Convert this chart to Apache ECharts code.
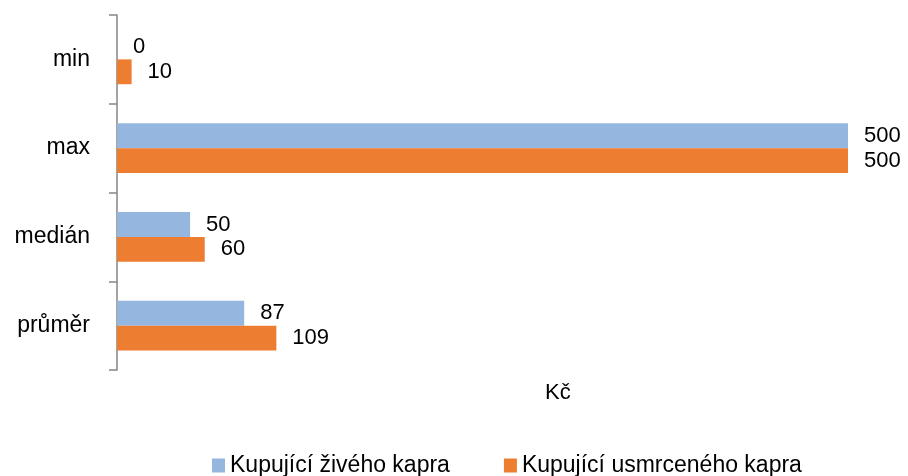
<!DOCTYPE html>
<html>
<head>
<meta charset="utf-8">
<script src="https://cdn.jsdelivr.net/npm/echarts@6/dist/echarts.min.js"></script>
<style>
  html, body { margin: 0; padding: 0; background: #fff; }
  #chart { width: 908px; height: 476px; }
</style>
</head>
<body>
<div id="chart"></div>
<script>
var categories = ['min', 'max', 'medián', 'průměr'];
var seriesNames = ['Kupující živého kapra', 'Kupující usmrceného kapra'];
var liveCarp = [0, 500, 50, 87];
var killedCarp = [10, 500, 60, 109];

var chart = echarts.init(document.getElementById('chart'));

var labelStyle = {
    show: true,
    position: 'right',
    distance: 16,
    color: '#000',
    fontSize: 22,
    fontFamily: 'Liberation Sans'
};

var option = {
    textStyle: { fontFamily: 'Liberation Sans' },
    animation: false,
    title: {
        text: 'Kč',
        left: 540,
        top: 377,
        textStyle: { fontSize: 22, fontWeight: 'normal', color: '#000' }
    },
    legend: {
        data: seriesNames,
        left: 207,
        top: 449,
        icon: 'rect',
        itemWidth: 13,
        itemHeight: 14,
        itemGap: 54,
        textStyle: { fontSize: 23, color: '#000' }
    },
    grid: {
        left: 117,
        right: 60,
        top: 15,
        bottom: 106,
        containLabel: false
    },
    xAxis: {
        type: 'value',
        min: 0,
        max: 500,
        show: false
    },
    yAxis: {
        type: 'category',
        data: categories,
        inverse: true,
        axisLine: { show: true, lineStyle: { color: '#868686', width: 1.5 } },
        axisTick: { show: true, length: 8, lineStyle: { color: '#868686', width: 1.5 } },
        axisLabel: { color: '#000', fontSize: 23, margin: 27 }
    },
    series: [{
        name: seriesNames[0],
        type: 'bar',
        data: liveCarp,
        itemStyle: { color: '#95B7DF' },
        barGap: '0%',
        barCategoryGap: '44%',
        label: labelStyle
    }, {
        name: seriesNames[1],
        type: 'bar',
        data: killedCarp,
        itemStyle: { color: '#ED7D31' },
        barGap: '0%',
        barCategoryGap: '44%',
        label: labelStyle
    }]
};

chart.setOption(option);
</script>
</body>
</html>
